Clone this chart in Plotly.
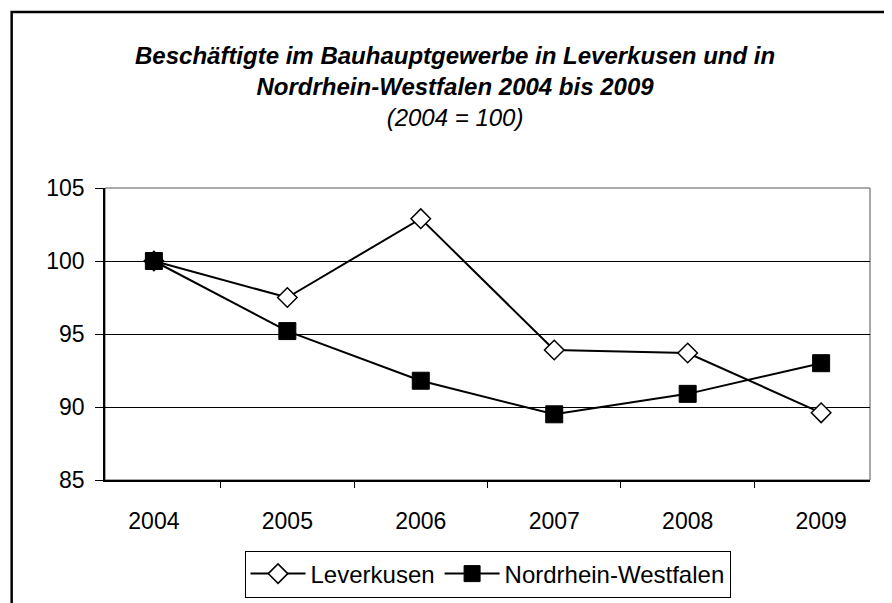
import plotly.graph_objects as go

# Jahre (Kategorien)
jahre = ["2004", "2005", "2006", "2007", "2008", "2009"]

# Indexwerte (2004 = 100)
leverkusen = [100.0, 97.5, 102.9, 93.9, 93.7, 89.6]
nrw = [100.0, 95.2, 91.8, 89.5, 90.9, 93.0]

schrift = "Arial, Liberation Sans, sans-serif"

fig = go.Figure()

fig.add_trace(go.Scatter(
    x=jahre, y=leverkusen,
    mode="lines+markers",
    name="Leverkusen",
    line=dict(color="black", width=2),
    marker=dict(symbol="diamond", size=15, color="white",
                line=dict(color="black", width=1.5))
))

fig.add_trace(go.Scatter(
    x=jahre, y=nrw,
    mode="lines+markers",
    name="Nordrhein-Westfalen",
    line=dict(color="black", width=2),
    marker=dict(symbol="square", size=17, color="black",
                line=dict(color="black", width=1))
))

# Rahmen der Zeichnungsfläche (oben/rechts dünn grau)
fig.add_shape(type="rect", xref="x domain", yref="y domain",
              x0=0, x1=1, y0=0, y1=1,
              line=dict(color="#555555", width=1), layer="below")

# Rahmen des Diagrammbereichs
fig.add_shape(type="rect", xref="paper", yref="paper",
              x0=-0.122, x1=1.06, y0=-0.55, y1=1.6027,
              line=dict(color="black", width=2.5))

# Titel
fig.add_annotation(
    xref="paper", yref="paper", x=0.4575, y=1.349,
    xanchor="center", yanchor="middle", showarrow=False,
    text="<b><i>Beschäftigte im Bauhauptgewerbe in Leverkusen und in<br>"
         "Nordrhein-Westfalen 2004 bis 2009</i></b><br><i>(2004 = 100)</i>",
    font=dict(family=schrift, size=24, color="black"),
    align="center"
)

fig.update_xaxes(
    type="category", tickson="boundaries",
    ticks="outside", ticklen=6, tickcolor="black", tickwidth=1,
    showline=True, linecolor="black", linewidth=1.5,
    showgrid=False, ticklabelstandoff=20,
    tickfont=dict(family=schrift, size=23, color="black")
)

fig.update_yaxes(
    range=[85, 105], dtick=5,
    ticks="outside", ticklen=8, tickcolor="black", tickwidth=1,
    showline=True, linecolor="black", linewidth=1.5,
    showgrid=True, gridcolor="black", gridwidth=1,
    zeroline=False, ticklabelstandoff=6,
    tickfont=dict(family=schrift, size=23, color="black")
)

fig.update_layout(
    width=892, height=603, autosize=False,
    margin=dict(l=97, r=30, t=180, b=131),
    paper_bgcolor="white", plot_bgcolor="white",
    showlegend=True,
    legend=dict(orientation="h", x=0.5, xanchor="center",
                y=-0.322, yanchor="middle",
                bordercolor="black", borderwidth=1,
                font=dict(family=schrift, size=24, color="black"),
                itemwidth=55),
    font=dict(family=schrift)
)

fig.write_html("out.html")
